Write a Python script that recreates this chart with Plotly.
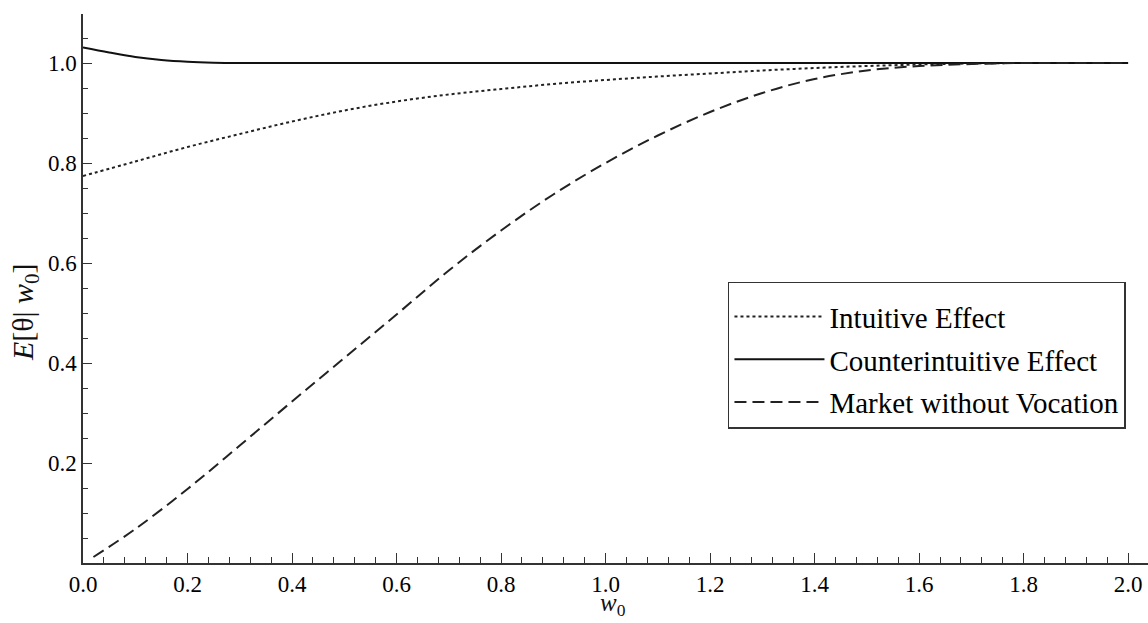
import plotly.graph_objects as go

# Data
x_solid = [0.0, 0.05, 0.1, 0.15, 0.2, 0.25, 0.3, 0.4, 0.6, 1.0, 1.5, 2.0]
y_solid = [1.031, 1.021, 1.012, 1.006, 1.0025, 1.0007, 1.0, 1.0, 1.0, 1.0, 1.0, 1.0]

x_dot = [0.0, 0.1, 0.2, 0.3, 0.4, 0.5, 0.6, 0.7, 0.8, 0.9, 1.0, 1.1, 1.2, 1.3, 1.4, 1.5, 1.6, 1.7, 1.8, 1.9, 2.0]
y_dot = [0.774, 0.803, 0.832, 0.858, 0.883, 0.905, 0.923, 0.937, 0.948, 0.958, 0.966, 0.973, 0.979,
         0.985, 0.990, 0.994, 0.997, 0.999, 1.0, 1.0, 1.0]

x_dash = [0.02, 0.1, 0.2, 0.3, 0.4, 0.5, 0.6, 0.7, 0.8, 0.9, 1.0, 1.1, 1.2, 1.3, 1.4, 1.5, 1.6, 1.7, 1.8, 1.9, 2.0]
y_dash = [0.012, 0.068, 0.148, 0.235, 0.323, 0.410, 0.497, 0.585, 0.665, 0.737, 0.800, 0.855, 0.902,
          0.940, 0.968, 0.985, 0.994, 0.998, 1.0, 1.0, 1.0]

names = ["Intuitive Effect", "Counterintuitive Effect", "Market without Vocation"]

x_tickvals = [0.0, 0.2, 0.4, 0.6, 0.8, 1.0, 1.2, 1.4, 1.6, 1.8, 2.0]
y_tickvals = [0.2, 0.4, 0.6, 0.8, 1.0]

x_title = "<i>w</i><sub>0</sub>"
y_title = "<i>E</i>[θ| <i>w</i><sub>0</sub>]"

serif = "Liberation Serif, Times New Roman, serif"

fig = go.Figure()
fig.add_trace(go.Scatter(x=x_dot, y=y_dot, mode="lines", name=names[0], legendgroup="a",
                         line=dict(color="#222", width=2, dash="dot", shape="spline")))
fig.add_trace(go.Scatter(x=x_solid, y=y_solid, mode="lines", name=names[1], legendgroup="b",
                         line=dict(color="#111", width=2, shape="spline")))
fig.add_trace(go.Scatter(x=x_dash, y=y_dash, mode="lines", name=names[2], legendgroup="c",
                         line=dict(color="#222", width=2, dash="12px,6px", shape="spline")))

fig.add_annotation(text=x_title, xref="paper", yref="paper", x=0.498, y=0, yshift=-24,
                   xanchor="center", yanchor="top", showarrow=False,
                   font=dict(family=serif, size=25, color="#111"))
fig.add_annotation(text=y_title, xref="paper", yref="paper", x=0, xshift=-58, y=0.457,
                   xanchor="center", yanchor="middle", textangle=-90, showarrow=False,
                   font=dict(family=serif, size=30, color="#111"))

fig.update_layout(
    width=1148, height=623,
    margin=dict(l=83, r=0, t=14, b=60),
    paper_bgcolor="white", plot_bgcolor="white",
    font=dict(family=serif, color="black"),
    legend=dict(x=0.6056, y=0.512, xanchor="left", yanchor="top",
                bordercolor="#333", borderwidth=1.5, bgcolor="white",
                font=dict(family=serif, size=29, color="black"),
                title=dict(text=" ", font=dict(size=6)),
                itemwidth=90,
                tracegroupgap=2, traceorder="grouped"),
    xaxis=dict(range=[0, 2.038], showgrid=False, zeroline=False,
               showline=True, linecolor="#333", linewidth=1.5,
               tickvals=x_tickvals, ticktext=[f"{v:.1f}" for v in x_tickvals],
               ticks="inside", ticklen=10, tickwidth=1.3, tickcolor="#333",
               tickfont=dict(family=serif, size=23, color="black"),
               minor=dict(dtick=0.04, tick0=0, ticks="inside", ticklen=6, tickwidth=1.2, tickcolor="#333")),
    yaxis=dict(range=[0, 1.098], showgrid=False, zeroline=False,
               showline=True, linecolor="#333", linewidth=1.5,
               tickvals=y_tickvals, ticktext=[f"{v:.1f}" for v in y_tickvals],
               ticks="inside", ticklen=9, tickwidth=1.3, tickcolor="#333",
               tickfont=dict(family=serif, size=23, color="black"),
               minor=dict(dtick=0.05, tick0=0, ticks="inside", ticklen=5, tickwidth=1.2, tickcolor="#333")),
)

fig.write_html("out.html", config={"displayModeBar": False},
               post_script="document.body.style.margin='0';document.body.style.overflow='hidden';")
